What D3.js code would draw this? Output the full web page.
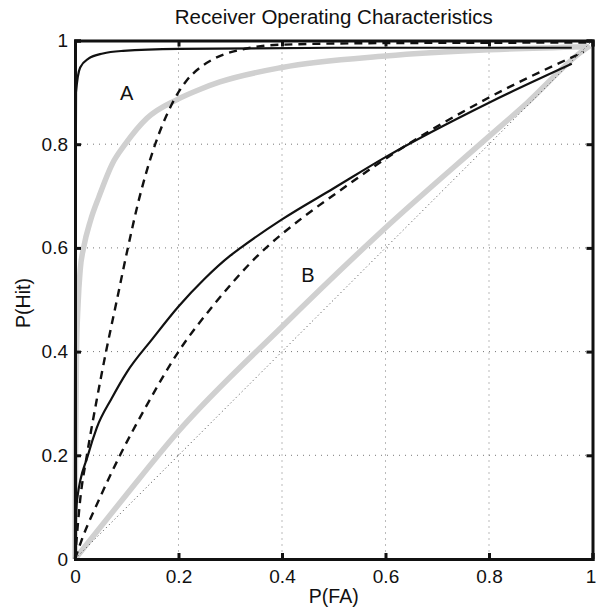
<!DOCTYPE html>
<html lang="en">
<head>
<meta charset="UTF-8">
<title>Receiver Operating Characteristics</title>
<style>
    body { margin: 0; background: #fff; }
    svg { display: block; font-family: "Liberation Sans", Arial, Helvetica, sans-serif; }
</style>
</head>
<body>
<svg width="596" height="607"></svg>
<script src="https://d3js.org/d3.v7.min.js"></script>
<script>

    // tick values (both axes)
    let ticks = [0, 0.2, 0.4, 0.6, 0.8, 1]

    // curve A : solid / dashed / grey
    let solidA_fa  = [0, 0.0005, 0.002, 0.01, 0.026, 0.054, 0.093, 0.2, 0.5, 0.96]
    let solidA_hit = [0, 0.5, 0.9, 0.948, 0.965, 0.975, 0.98, 0.984, 0.986, 0.986]

    let dashA_fa  = [0, 0.003, 0.01, 0.023, 0.042, 0.06, 0.08, 0.1, 0.124, 0.155, 0.187, 0.215, 0.242, 0.267, 0.329, 0.4, 0.6, 1]
    let dashA_hit = [0, 0.037, 0.114, 0.2, 0.307, 0.4, 0.495, 0.59, 0.695, 0.8, 0.877, 0.922, 0.948, 0.964, 0.984, 0.992, 0.995, 0.996]

    let greyA_fa  = [0, 0.001, 0.003, 0.006, 0.01, 0.017, 0.03, 0.046, 0.072, 0.097, 0.139, 0.197, 0.242, 0.28, 0.4, 0.6, 0.8, 0.99]
    let greyA_hit = [0, 0.2, 0.4, 0.493, 0.557, 0.602, 0.653, 0.698, 0.762, 0.8, 0.85, 0.886, 0.906, 0.92, 0.948, 0.97, 0.982, 0.988]

    // curve B : solid / dashed / grey
    let solidB_fa  = [0, 0.001, 0.004, 0.025, 0.042, 0.071, 0.1, 0.15, 0.2, 0.25, 0.3, 0.32, 0.4, 0.5, 0.6, 0.8, 0.96]
    let solidB_hit = [0, 0.05, 0.114, 0.2, 0.253, 0.31, 0.36, 0.425, 0.487, 0.54, 0.585, 0.6, 0.655, 0.715, 0.775, 0.88, 0.955]

    let dashB_fa  = [0, 0.013, 0.048, 0.087, 0.135, 0.2, 0.268, 0.351, 0.442, 0.5, 0.6, 0.8, 0.983]
    let dashB_hit = [0, 0.037, 0.118, 0.2, 0.29, 0.4, 0.49, 0.583, 0.66, 0.702, 0.772, 0.89, 0.978]

    let greyB_fa  = [0, 0.1, 0.197, 0.4, 0.596, 0.8, 0.874, 0.977, 0.995]
    let greyB_hit = [0, 0.125, 0.243, 0.448, 0.635, 0.815, 0.88, 0.977, 0.99]

    // chance line
    let chance_fa  = [0, 1]
    let chance_hit = [0, 1]

    let margin = {top: 40.5, right: 3.5, bottom: 48, left: 75}
    let svg = d3.select('svg')
    let width = +svg.attr('width') - margin.left - margin.right
    let height = +svg.attr('height') - margin.top - margin.bottom

    let x = d3.scaleLinear().domain([0, 1]).range([0, width])
    let y = d3.scaleLinear().domain([0, 1]).range([height, 0])

    let g = svg.append('g')
        .attr('transform', 'translate(' + margin.left + ',' + margin.top + ')')

    // dotted grid
    g.append('g')
        .selectAll('line')
        .data(ticks.slice(1, -1))
        .enter()
        .append('line')
        .attr('x1', d => x(d)).attr('x2', d => x(d))
        .attr('y1', 0).attr('y2', height)
        .attr('stroke', '#777').attr('stroke-width', 1)
        .attr('stroke-dasharray', '1,5')
    g.append('g')
        .selectAll('line')
        .data(ticks.slice(1, -1))
        .enter()
        .append('line')
        .attr('y1', d => y(d)).attr('y2', d => y(d))
        .attr('x1', 0).attr('x2', width)
        .attr('stroke', '#777').attr('stroke-width', 1)
        .attr('stroke-dasharray', '1,5')

    let line = d3.line()
        .x(d => x(d[0]))
        .y(d => y(d[1]))
        .curve(d3.curveMonotoneX)

    function pts (fa, hit) {
        return fa.map((v, i) => [v, hit[i]])
    }

    let curves = [
        {fa: greyA_fa, hit: greyA_hit, color: '#d0d0d0', w: 5.5, dash: null},
        {fa: greyB_fa, hit: greyB_hit, color: '#d0d0d0', w: 5.5, dash: null},
        {fa: chance_fa, hit: chance_hit, color: '#444', w: 1, dash: '1,3'},
        {fa: solidA_fa, hit: solidA_hit, color: '#111', w: 2.2, dash: null},
        {fa: solidB_fa, hit: solidB_hit, color: '#111', w: 2.2, dash: null},
        {fa: dashA_fa, hit: dashA_hit, color: '#111', w: 2.4, dash: '8,6'},
        {fa: dashB_fa, hit: dashB_hit, color: '#111', w: 2.4, dash: '8,6'}
    ]

    g.append('g')
        .selectAll('path')
        .data(curves)
        .enter()
        .append('path')
        .attr('d', d => line(pts(d.fa, d.hit)))
        .attr('fill', 'none')
        .attr('stroke', d => d.color)
        .attr('stroke-width', d => d.w)
        .attr('stroke-dasharray', d => d.dash)

    // box + inside ticks
    let xAxis = g.append('g')
        .attr('transform', 'translate(0,' + height + ')')
        .call(d3.axisBottom(x).tickValues(ticks).tickSize(-6).tickPadding(11).tickFormat(d3.format('')))
    let xAxisTop = g.append('g')
        .call(d3.axisTop(x).tickValues(ticks).tickSize(-6).tickFormat(''))
    let yAxis = g.append('g')
        .call(d3.axisLeft(y).tickValues(ticks).tickSize(-6).tickPadding(7).tickFormat(d3.format('')))
    let yAxisRight = g.append('g')
        .attr('transform', 'translate(' + width + ',0)')
        .call(d3.axisRight(y).tickValues(ticks).tickSize(-6).tickFormat(''))

    ;[xAxis, xAxisTop, yAxis, yAxisRight].forEach(a => {
        a.select('.domain').attr('stroke', '#111').attr('stroke-width', 3)
        a.selectAll('.tick line').attr('stroke', '#111').attr('stroke-width', 3)
        a.selectAll('.tick text').attr('font-size', 19).attr('fill', '#111')
            .attr('font-family', '"Liberation Sans", Arial, sans-serif')
    })
    xAxis.selectAll('.tick text').attr('dy', '0.71em')
    // keep the last label inside the picture
    xAxis.selectAll('.tick text').filter(d => d === 1).attr('dx', -2)

    // labels
    g.append('text')
        .attr('x', x(0.1)).attr('y', 59.5)
        .attr('text-anchor', 'middle').attr('font-size', 20)
        .attr('fill', '#111')
        .text('A')
    g.append('text')
        .attr('x', x(0.45)).attr('y', 241.5)
        .attr('text-anchor', 'middle').attr('font-size', 20)
        .attr('fill', '#111')
        .text('B')

    svg.append('text')
        .attr('x', margin.left + width / 2).attr('y', 24)
        .attr('text-anchor', 'middle').attr('font-size', 20.5)
        .attr('fill', '#111')
        .text('Receiver Operating Characteristics')

    svg.append('text')
        .attr('x', margin.left + width / 2).attr('y', 603)
        .attr('text-anchor', 'middle').attr('font-size', 19.5)
        .attr('fill', '#111')
        .text('P(FA)')

    svg.append('text')
        .attr('transform', 'translate(30,303) rotate(-90)')
        .attr('text-anchor', 'middle').attr('font-size', 19.5)
        .attr('fill', '#111')
        .text('P(Hit)')

</script>
</body>
</html>
